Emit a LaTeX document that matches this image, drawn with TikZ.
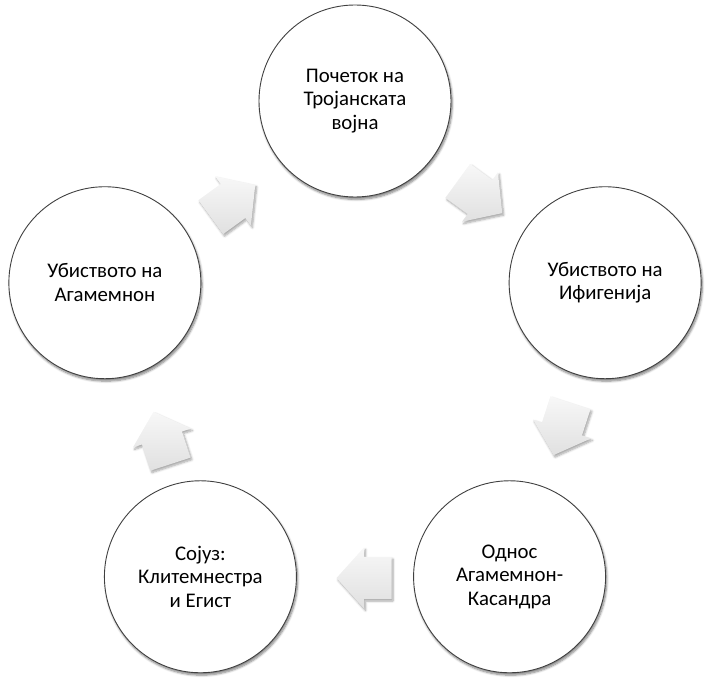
\documentclass[tikz,border=0pt]{standalone}
\usepackage{fontspec}
\setmainfont{Carlito}
\usetikzlibrary{shadows.blur}
\tikzset{
  x=1pt,y=1pt,
  stage/.style={circle, minimum size=192pt, inner sep=0pt, fill=white,
    draw=black!75, line width=0.9pt, align=center,
    font=\fontsize{20.8}{23.5}\selectfont, text=black,
    blur shadow={shadow xshift=1.2pt, shadow yshift=-2.4pt, shadow blur steps=6, shadow opacity=50, shadow blur radius=2.2pt}},
  arrowfill/.style={top color=black!3, bottom color=black!12, draw=none,
    blur shadow={shadow xshift=1.5pt, shadow yshift=-2pt, shadow blur steps=6, shadow opacity=35, shadow blur radius=2.2pt}}
}
\newcommand{\cyclearrow}[2]{%
  \begin{scope}[shift={(#1)}, rotate=#2]
    \path[arrowfill] (-27.5,-21) -- (0,-21) -- (0,-30.5) -- (27.5,0) -- (0,30.5) -- (0,21) -- (-27.5,21) -- cycle;
  \end{scope}}
\begin{document}
\begin{tikzpicture}
\useasboundingbox (0,0) rectangle (705,-684);
\coordinate (o) at (355,-364);
\node[stage] (c1) at ($(o)+(90:263)$) {Почеток на\\Тројанската\\војна};
\node[stage] (c2) at ($(o)+(18:263)$) {Убиството на\\Ифигенија};
\node[stage] (c3) at ($(o)+(-54:263)$) {Однос\\Агамемнон-\\Касандра};
\node[stage] (c4) at ($(o)+(-126:263)$) {Сојуз:\\Клитемнестра\\и Егист};
\node[stage] (c5) at ($(o)+(162:263)$) {Убиството на\\Агамемнон};
\coordinate (a1) at (480,-197);
\coordinate (a2) at (562,-429);
\coordinate (a3) at (364,-578);
\coordinate (a4) at (162,-438);
\coordinate (a5) at (233,-201);
\cyclearrow{a1}{-36}
\cyclearrow{a2}{-108}
\cyclearrow{a3}{180}
\cyclearrow{a4}{108}
\cyclearrow{a5}{36}
\end{tikzpicture}
\end{document}
